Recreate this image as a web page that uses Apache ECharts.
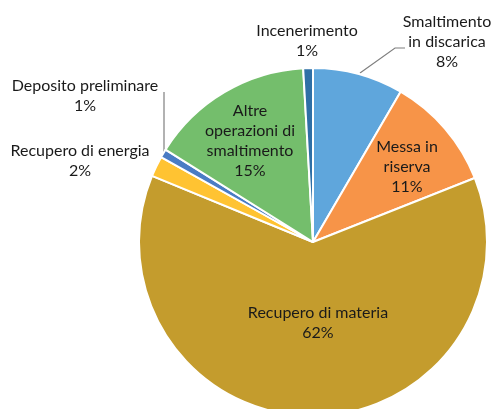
<!DOCTYPE html>
<html>
<head>
<meta charset="utf-8">
<script src="https://cdn.jsdelivr.net/npm/echarts@6/dist/echarts.min.js"></script>
<style>
html, body { margin: 0; padding: 0; background: #fff; }
#chart { width: 495px; height: 409px; }
</style>
</head>
<body>
<div id="chart"></div>
<script>
// dati (percentuali)
var categorie = ['Smaltimento\nin discarica', 'Messa in\nriserva', 'Recupero di materia', 'Recupero di energia', 'Deposito preliminare', 'Altre\noperazioni di\nsmaltimento', 'Incenerimento'];
var valori = [8.4, 10.6, 62.2, 1.9, 0.8, 15.2, 0.9];
var colori = ['#5FA6DC', '#F79448', '#C49C2D', '#FFC332', '#4A7CC4', '#74BE6C', '#2F6FA6'];
var interne = [false, true, true, false, false, true, false];

// posizioni delle etichette (centro del testo) e linee guida
var posEtichette = {
	0: { x: 447, y: 42, line: [[360, 73], [395, 48], [405, 48]] },
	1: { x: 407, y: 167 },
	2: { x: 318, y: 323 },
	3: { x: 80, y: 161 },
	4: { x: 85, y: 96, line: [[164, 157], [164, 92], [164, 92]] },
	5: { x: 250, y: 141 },
	6: { x: 307, y: 41 }
};

var chart = echarts.init(document.getElementById('chart'));

var dati = [];
for (var i = 0; i < valori.length; i++) {
	dati.push({
		name: categorie[i],
		value: valori[i],
		itemStyle: { color: colori[i] },
		label: { position: interne[i] ? 'inside' : 'outside' },
		labelLine: { show: !!(posEtichette[i] && posEtichette[i].line) }
	});
}

var option = {
	animation: false,
	series: [{
		type: 'pie',
		center: [313, 242],
		radius: [0, 174],
		startAngle: 90,
		clockwise: true,
		avoidLabelOverlap: false,
		itemStyle: { borderColor: '#fff', borderWidth: 2 },
		label: {
			show: true,
			color: '#1a1a1a',
			fontFamily: 'Lato',
			fontSize: 16,
			lineHeight: 20,
			align: 'center',
			formatter: function(p) {
				return p.name + '\n' + Math.round(p.value) + '%';
			}
		},
		labelLine: {
			show: false,
			lineStyle: { color: '#7f7f7f', width: 1.2 }
		},
		labelLayout: function(p) {
			var pos = posEtichette[p.dataIndex];
			if (!pos) {
				return {};
			}
			var r = { x: pos.x, y: pos.y, align: 'center', verticalAlign: 'middle' };
			if (pos.line) {
				r.labelLinePoints = pos.line;
			}
			return r;
		},
		data: dati
	}]
};

chart.setOption(option);
</script>
</body>
</html>
